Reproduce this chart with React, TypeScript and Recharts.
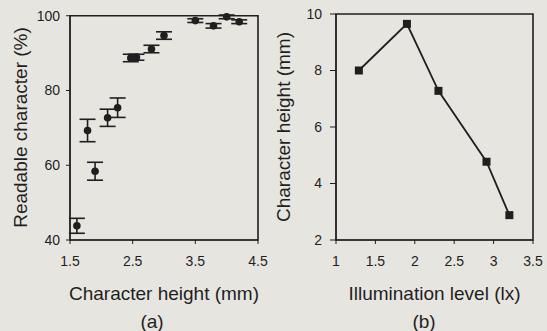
import React from "react";
import {
  ScatterChart,
  Scatter,
  ErrorBar,
  LineChart,
  Line,
  XAxis,
  YAxis,
  ReferenceArea,
} from "recharts";

// panel (a): readable characters vs character height
const charHeightMm = [1.61, 1.78, 1.9, 2.1, 2.26, 2.47, 2.56, 2.8, 3.0, 3.5, 3.79, 4.0, 4.2];
const readablePct = [43.8, 69.3, 58.4, 72.7, 75.4, 88.7, 88.9, 91.1, 94.7, 98.7, 97.3, 99.7, 98.4];
const readableErr = [2, 3, 2.4, 2.3, 2.6, 1, 0.8, 1, 1, 0.5, 0.6, 0.5, 0.5];
const ticksA_x = [1.5, 2.5, 3.5, 4.5];
const ticksA_y = [40, 60, 80, 100];

// panel (b): character height vs illumination level
const illumLevel = [1.29, 1.9, 2.3, 2.91, 3.2];
const neededHeight = [8.0, 9.65, 7.28, 4.77, 2.88];
const ticksB_x = [1, 1.5, 2, 2.5, 3, 3.5];
const ticksB_y = [2, 4, 6, 8, 10];

const ink = "#1f1f1f";
const font = "'Liberation Sans', Arial, sans-serif";
const tickStyle = { fill: ink, fontSize: 14, fontFamily: font };

const dataA = charHeightMm.map((x, i) => ({ x, y: readablePct[i], err: readableErr[i] }));
const dataB = illumLevel.map((x, i) => ({ x, y: neededHeight[i] }));

const SquareDot = (props: any) => {
  const { cx, cy } = props;
  if (cx == null || cy == null) return null;
  return <rect x={cx - 4} y={cy - 4} width={8} height={8} fill={ink} />;
};

const CircleDot = (props: any) => {
  const { cx, cy } = props;
  if (cx == null || cy == null) return null;
  return <circle cx={cx} cy={cy} r={3.8} fill={ink} />;
};

export default function App() {
  return (
    <div
      style={{
        position: "absolute",
        left: 0,
        top: 0,
        width: 547,
        height: 331,
        background: "#e7e5e0",
        overflow: "hidden",
        fontFamily: font,
      }}
    >
      <div style={{ position: "absolute", left: 0, top: 0 }}>
        <ScatterChart width={270} height={331} margin={{ top: 15, right: 12, bottom: 61, left: 0 }}>
          <ReferenceArea x1={1.5} x2={4.5} y1={40} y2={100} fill="none" stroke={ink} strokeWidth={1.6} />
          <XAxis
            type="number"
            dataKey="x"
            domain={[1.5, 4.5]}
            ticks={ticksA_x}
            height={30}
            tickSize={4}
            tickMargin={12}
            stroke={ink}
            tick={tickStyle}
            label={{ value: "Character height (mm)", position: "bottom", offset: 17, fill: ink, fontSize: 19, fontFamily: font }}
          />
          <YAxis
            type="number"
            dataKey="y"
            domain={[40, 100]}
            ticks={ticksA_y}
            width={70}
            tickSize={4}
            tickMargin={6}
            stroke={ink}
            tick={tickStyle}
            label={{
              value: "Readable character (%)",
              angle: -90,
              position: "insideLeft",
              offset: 20,
              fill: ink,
              fontSize: 19,
              fontFamily: font,
              style: { textAnchor: "middle" },
            }}
          />
          <Scatter data={dataA} shape={CircleDot} isAnimationActive={false}>
            <ErrorBar dataKey="err" direction="y" width={8} stroke={ink} strokeWidth={1.6} />
          </Scatter>
        </ScatterChart>
      </div>
      <div style={{ position: "absolute", left: 270, top: 0 }}>
        <LineChart width={277} height={331} data={dataB} margin={{ top: 14, right: 14, bottom: 61, left: 0 }}>
          <ReferenceArea x1={1} x2={3.5} y1={2} y2={10} fill="none" stroke={ink} strokeWidth={1.6} />
          <XAxis
            type="number"
            dataKey="x"
            domain={[1, 3.5]}
            ticks={ticksB_x}
            height={30}
            tickSize={4}
            tickMargin={12}
            stroke={ink}
            tick={tickStyle}
            label={{ value: "Illumination level (lx)", position: "bottom", offset: 17, fill: ink, fontSize: 19, fontFamily: font }}
          />
          <YAxis
            type="number"
            domain={[2, 10]}
            ticks={ticksB_y}
            width={66}
            tickSize={6}
            tickMargin={8}
            stroke={ink}
            tick={tickStyle}
            label={{
              value: "Character height (mm)",
              angle: -90,
              position: "insideLeft",
              offset: 13,
              fill: ink,
              fontSize: 19,
              fontFamily: font,
              style: { textAnchor: "middle" },
            }}
          />
          <Line
            type="linear"
            dataKey="y"
            stroke={ink}
            strokeWidth={1.8}
            dot={<SquareDot />}
            activeDot={false}
            isAnimationActive={false}
          />
        </LineChart>
      </div>
      <div style={{ position: "absolute", left: 152, top: 322, transform: "translate(-50%, -50%)", fontSize: 19, color: ink }}>
        (a)
      </div>
      <div style={{ position: "absolute", left: 424, top: 322, transform: "translate(-50%, -50%)", fontSize: 19, color: ink }}>
        (b)
      </div>
    </div>
  );
}
